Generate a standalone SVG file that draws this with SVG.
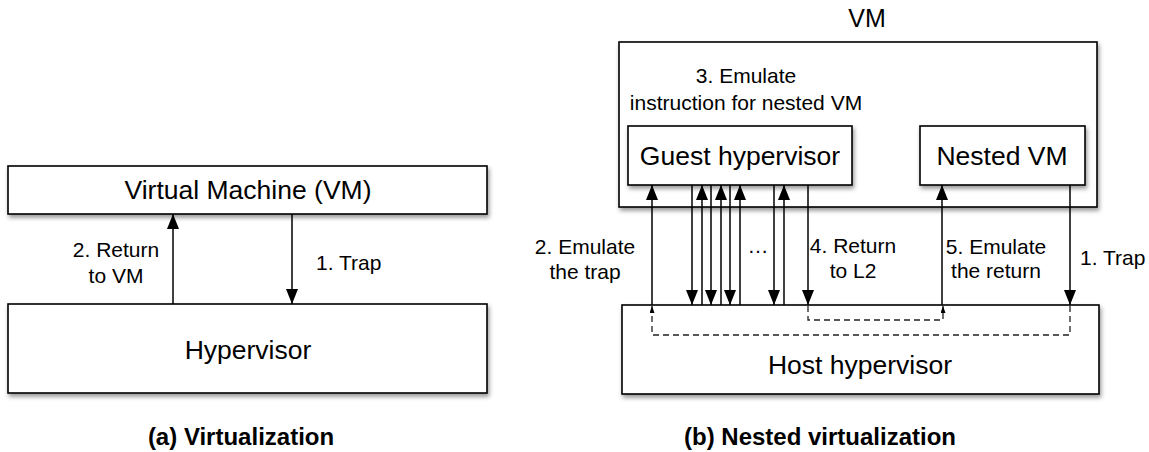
<svg xmlns="http://www.w3.org/2000/svg" width="1149" height="452" viewBox="0 0 1149 452">
<defs>
<filter id="sh" x="-5%" y="-20%" width="110%" height="150%">
<feDropShadow dx="1.5" dy="3" stdDeviation="2" flood-color="#000" flood-opacity="0.4"/>
</filter>
<marker id="ah" markerUnits="userSpaceOnUse" markerWidth="16" markerHeight="13" refX="15" refY="6" orient="auto">
<path d="M0,0 L15,6 L0,12 z" fill="#000"/>
</marker>
<marker id="sah" markerUnits="userSpaceOnUse" markerWidth="8" markerHeight="6" refX="7" refY="2.5" orient="auto">
<path d="M0,0 L7,2.5 L0,5 z" fill="#000"/>
</marker>
</defs>
<style>
.box{fill:#fff;stroke:#000;stroke-width:1.6;filter:url(#sh)}
.t{font-family:"Liberation Sans",Arial,sans-serif;font-size:26.5px;fill:#000;text-anchor:middle}
.l{font-family:"Liberation Sans",Arial,sans-serif;font-size:21px;fill:#000}
.c{font-family:"Liberation Sans",Arial,sans-serif;font-size:24px;font-weight:bold;fill:#000;text-anchor:middle}
.a{stroke:#000;stroke-width:1.5;fill:none;marker-end:url(#ah)}
.d{stroke:#222;stroke-width:1.3;fill:none;stroke-dasharray:6,4;marker-end:url(#sah)}
</style>

<g id="vm-left">
<rect class="box" x="8" y="166" width="479" height="48"/>
<text class="t" x="248" y="199">Virtual Machine (VM)</text>
</g>
<g id="hypervisor-left">
<rect class="box" x="8" y="304" width="479" height="89"/>
<text class="t" x="248" y="359">Hypervisor</text>
</g>

<g id="vm-outer">
<rect class="box" x="619" y="42" width="478" height="165"/>
<text class="t" x="867" y="27" style="font-size:25px">VM</text>
</g>
<g id="guest-hypervisor">
<rect class="box" x="628" y="126" width="224" height="59"/>
<text class="t" x="740" y="165">Guest hypervisor</text>
</g>
<g id="nested-vm">
<rect class="box" x="920" y="126" width="165" height="59"/>
<text class="t" x="1002" y="165">Nested VM</text>
</g>
<g id="host-hypervisor">
<rect class="box" x="622" y="305" width="477" height="89"/>
<text class="t" x="860" y="374">Host hypervisor</text>
</g>

<g id="connectors">
<line class="a" x1="173" y1="304" x2="173" y2="214"/>
<line class="a" x1="292" y1="214" x2="292" y2="304"/>

<line class="a" x1="652" y1="305" x2="652" y2="185"/>
<line class="a" x1="692" y1="185" x2="692" y2="305"/>
<line class="a" x1="702" y1="305" x2="702" y2="185"/>
<line class="a" x1="711" y1="185" x2="711" y2="305"/>
<line class="a" x1="721" y1="305" x2="721" y2="185"/>
<line class="a" x1="730" y1="185" x2="730" y2="305"/>
<line class="a" x1="740" y1="305" x2="740" y2="185"/>
<line class="a" x1="774" y1="185" x2="774" y2="305"/>
<line class="a" x1="784" y1="305" x2="784" y2="185"/>
<line class="a" x1="808" y1="185" x2="808" y2="305"/>
<line class="a" x1="942" y1="305" x2="942" y2="185"/>
<line class="a" x1="1070" y1="185" x2="1070" y2="305"/>

<path class="d" d="M808,306 V320 H943 V306"/>
<path class="d" d="M1070,306 V335 H652 V306"/>
</g>

<g id="labels">
<text class="l" x="116" y="257" text-anchor="middle">2. Return</text>
<text class="l" x="116" y="283" text-anchor="middle">to VM</text>
<text class="l" x="316" y="270">1. Trap</text>

<text class="l" x="746" y="83" text-anchor="middle">3. Emulate</text>
<text class="l" x="746" y="110" text-anchor="middle">instruction for nested VM</text>

<text class="l" x="585" y="254" text-anchor="middle">2. Emulate</text>
<text class="l" x="585" y="279" text-anchor="middle">the trap</text>
<text class="l" x="758" y="253" text-anchor="middle">…</text>
<text class="l" x="853" y="253" text-anchor="middle">4. Return</text>
<text class="l" x="853" y="278" text-anchor="middle">to L2</text>
<text class="l" x="996" y="254" text-anchor="middle">5. Emulate</text>
<text class="l" x="996" y="278" text-anchor="middle">the return</text>
<text class="l" x="1080" y="265">1. Trap</text>
</g>

<g id="captions">
<text class="c" x="241" y="445">(a) Virtualization</text>
<text class="c" x="820" y="445">(b) Nested virtualization</text>
</g>
</svg>
